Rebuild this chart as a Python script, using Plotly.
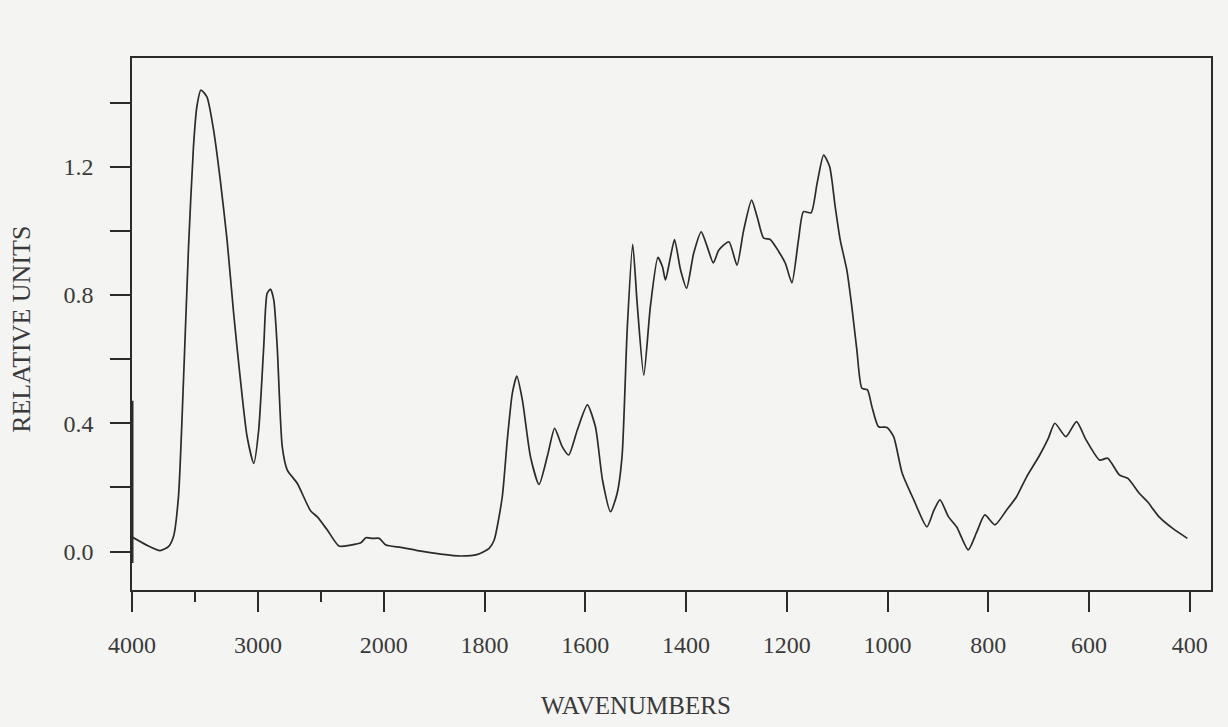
import plotly.graph_objects as go

# ---- data ----
wavenumbers = [3998, 3883, 3777, 3711, 3671, 3631, 3591, 3551, 3512, 3485, 3453, 3405, 3352,
               3299, 3245, 3193, 3139, 3086, 3033, 2994, 2954, 2927, 2900, 2874, 2847, 2807,
               2767, 2688, 2582, 2528, 2449, 2356, 2263, 2183, 2143, 2090, 2037, 1996, 1966,
               1933, 1887, 1847, 1814, 1791, 1781, 1765, 1755, 1745, 1736, 1725, 1709, 1692,
               1675, 1661, 1646, 1633, 1616, 1596, 1580, 1566, 1550, 1537, 1527, 1517, 1506,
               1497, 1484, 1471, 1456, 1447, 1441, 1431, 1423, 1411, 1399, 1385, 1370, 1358,
               1346, 1335, 1315, 1299, 1286, 1270, 1259, 1246, 1233, 1216, 1203, 1190, 1177,
               1167, 1152, 1140, 1127, 1115, 1104, 1094, 1081, 1071, 1061, 1051, 1040, 1031,
               1018, 1001, 988, 971, 948, 922, 908, 896, 879, 863, 840, 824, 807, 787, 764,
               744, 724, 698, 681, 668, 646, 625, 606, 579, 563, 540, 523, 500, 484, 461, 434, 405]
absorbance = [0.045, 0.02, 0.003, 0.015, 0.046, 0.171, 0.535, 0.95, 1.262, 1.387, 1.439, 1.418, 1.314,
              1.158, 0.971, 0.743, 0.535, 0.358, 0.275, 0.379, 0.639, 0.805, 0.818, 0.784, 0.639, 0.327,
              0.254, 0.213, 0.127, 0.108, 0.067, 0.017, 0.02, 0.027, 0.043, 0.041, 0.041, 0.02, 0.013,
              0.003, -0.008, -0.014, -0.009, 0.01, 0.036, 0.17, 0.348, 0.493, 0.547, 0.472, 0.296, 0.209,
              0.3, 0.384, 0.327, 0.301, 0.379, 0.457, 0.389, 0.223, 0.124, 0.181, 0.3, 0.69, 0.958,
              0.77, 0.55, 0.763, 0.917, 0.888, 0.847, 0.919, 0.973, 0.878, 0.821, 0.93, 0.997, 0.95,
              0.9, 0.94, 0.966, 0.893, 1.0, 1.096, 1.044, 0.977, 0.973, 0.935, 0.899, 0.838, 0.971,
              1.06, 1.056, 1.148, 1.236, 1.2, 1.075, 0.971, 0.878, 0.763, 0.628, 0.509, 0.504, 0.451,
              0.389, 0.387, 0.358, 0.244, 0.161, 0.077, 0.129, 0.161, 0.108, 0.077, 0.005, 0.057, 0.114,
              0.083, 0.129, 0.171, 0.233, 0.301, 0.353, 0.4, 0.358, 0.405, 0.348, 0.285, 0.291, 0.239,
              0.228, 0.181, 0.155, 0.108, 0.072, 0.041]

# pen mark at the start of the trace
start_mark_wn = [4000, 4000]
start_mark_abs = [0.47, -0.036]

x_major = [4000, 3000, 2000, 1800, 1600, 1400, 1200, 1000, 800, 600, 400]
x_minor = [3500, 2500]
y_major = [0.0, 0.4, 0.8, 1.2]
y_minor = [0.2, 0.6, 1.0, 1.4]


# spectrometer scale: 4000-2000 compressed 4x relative to 2000-400
def to_axis(wn):
    return (4000 - wn) / 4.0 if wn >= 2000 else 500 + (2000 - wn)


ink = "#2b2b2b"
paper = "#f4f4f3"
serif = "Liberation Serif, Times New Roman, serif"

fig = go.Figure()
fig.add_trace(go.Scatter(x=[to_axis(w) for w in wavenumbers], y=absorbance, mode="lines",
                         line=dict(color=ink, width=1.7, shape="spline", smoothing=0.6),
                         showlegend=False, hoverinfo="skip"))
fig.add_trace(go.Scatter(x=[to_axis(w) for w in start_mark_wn], y=start_mark_abs, mode="lines",
                         line=dict(color=ink, width=3), showlegend=False, hoverinfo="skip"))

fig.update_layout(
    width=1228, height=727,
    margin=dict(l=132, r=17, t=58, b=137),
    paper_bgcolor=paper, plot_bgcolor=paper,
    font=dict(family=serif, color="#3a3a3a", size=24),
    xaxis=dict(range=[0, 2142], showgrid=False, zeroline=False,
               showline=True, linecolor=ink, linewidth=1.5, mirror=True,
               tickmode="array", tickvals=[to_axis(w) for w in x_major],
               ticktext=[str(w) for w in x_major],
               ticks="outside", ticklen=20, tickwidth=1.5, tickcolor=ink,
               ticklabelstandoff=12,
               minor=dict(tickmode="array", tickvals=[to_axis(w) for w in x_minor],
                          ticks="outside", ticklen=10, tickwidth=1.5, tickcolor=ink)),
    yaxis=dict(range=[-0.12, 1.539], showgrid=False, zeroline=False,
               showline=True, linecolor=ink, linewidth=1.5, mirror=True,
               tickmode="array", tickvals=y_major,
               ticktext=[f"{v:.1f}" for v in y_major],
               ticks="outside", ticklen=20, tickwidth=1.5, tickcolor=ink,
               ticklabelstandoff=12,
               minor=dict(tickmode="array", tickvals=y_minor,
                          ticks="outside", ticklen=20, tickwidth=1.5, tickcolor=ink)),
    annotations=[
        dict(text="WAVENUMBERS", xref="paper", yref="paper", x=0.467, y=0,
             xanchor="center", yanchor="middle", yshift=-115, showarrow=False,
             font=dict(family=serif, size=25, color="#3a3a3a")),
        dict(text="RELATIVE UNITS", xref="paper", yref="paper", x=0, y=0.489,
             xanchor="center", yanchor="middle", xshift=-110, textangle=-90, showarrow=False,
             font=dict(family=serif, size=26, color="#3a3a3a")),
    ],
)

fig.write_html("out.html")
